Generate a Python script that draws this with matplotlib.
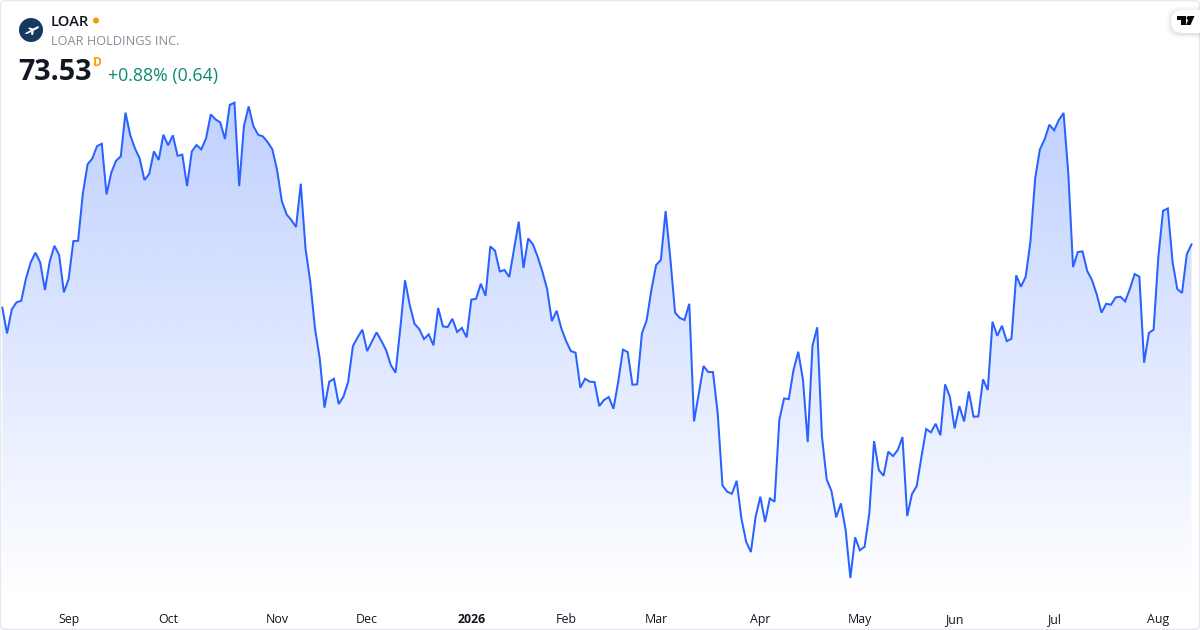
import numpy as np
import matplotlib
matplotlib.use("Agg")
import matplotlib.pyplot as plt
from matplotlib.patches import Circle, FancyBboxPatch, Polygon

plt.rcParams['font.family'] = ['Open Sans', 'DejaVu Sans']

ticker = "LOAR"
company = "LOAR HOLDINGS INC."
last_price = "73.53"
interval = "D"
change = "+0.88% (0.64)"

closes = [
    69.48, 67.83, 69.37, 69.82, 69.92, 71.35, 72.38, 73.00, 72.38, 70.61, 72.42, 73.44,
    72.85, 70.46, 71.31, 73.74, 73.76, 76.79, 78.65, 79.03, 79.82, 79.97, 76.73, 78.12,
    78.88, 79.16, 81.96, 80.53, 79.67, 79.03, 77.65, 78.03, 79.48, 78.93, 80.55, 79.87,
    80.51, 79.20, 79.27, 77.26, 79.48, 79.89, 79.61, 80.31, 81.85, 81.53, 81.34, 80.27,
    82.45, 82.60, 77.26, 81.10, 82.36, 81.10, 80.55, 80.44, 80.08, 79.61, 78.29, 76.30,
    75.45, 75.09, 74.64, 77.41, 73.27, 71.14, 68.15, 66.23, 63.08, 64.74, 64.93, 63.31,
    63.78, 64.74, 67.02, 67.58, 68.07, 66.70, 67.30, 67.90, 67.36, 66.77, 65.81, 65.32,
    68.15, 71.23, 69.65, 68.45, 68.11, 67.47, 67.77, 67.07, 69.46, 68.28, 68.24, 68.77,
    67.92, 68.18, 67.58, 69.99, 70.05, 71.01, 70.24, 73.40, 73.12, 71.80, 71.89, 71.44,
    73.21, 74.98, 72.02, 73.91, 73.53, 72.74, 71.78, 70.65, 68.62, 69.28, 68.15, 67.34,
    66.70, 66.60, 64.36, 64.93, 64.74, 64.72, 63.18, 63.57, 63.76, 63.01, 64.74, 66.79,
    66.64, 64.55, 64.57, 67.83, 68.67, 70.61, 72.21, 72.53, 75.66, 72.63, 69.16, 68.82,
    68.69, 69.73, 62.20, 63.99, 65.74, 65.36, 65.36, 62.71, 58.11, 57.70, 57.57, 58.40,
    55.99, 54.50, 53.84, 56.10, 57.38, 55.76, 57.27, 57.06, 62.29, 63.67, 63.63, 65.49,
    66.66, 64.85, 60.88, 67.04, 68.22, 61.22, 58.49, 57.76, 56.06, 56.95, 55.25, 52.18,
    54.78, 53.95, 54.18, 56.31, 60.94, 59.09, 58.72, 60.26, 59.98, 60.37, 61.20, 56.14,
    57.55, 58.06, 59.94, 61.71, 61.50, 62.05, 61.31, 64.57, 63.78, 61.75, 63.18, 62.20,
    64.12, 62.50, 62.52, 64.89, 64.21, 68.58, 67.68, 68.32, 67.34, 67.49, 71.55, 70.82,
    71.46, 73.70, 77.75, 79.61, 80.25, 81.19, 80.83, 81.49, 81.94, 78.07, 72.08, 73.04,
    73.08, 71.82, 71.25, 70.33, 69.16, 69.73, 69.67, 70.14, 70.18, 69.88, 70.69, 71.63,
    71.46, 65.96, 67.86, 68.07, 72.74, 75.68, 75.83, 72.42, 70.67, 70.42, 72.89, 73.53,
]
tick_pos = [14, 35, 58, 77, 99, 119, 138, 160, 181, 201, 222, 244]
tick_labels = ["Sep", "Oct", "Nov", "Dec", "2026", "Feb", "Mar", "Apr", "May", "Jun", "Jul", "Aug"]

W, H = 1200, 630
fig = plt.figure(figsize=(W / 100, H / 100), dpi=100, facecolor="white")
ax = fig.add_axes([0, 0, 1, 1])

x = np.arange(len(closes))
# full-bleed axes, so the limits put first/last bar at px 2.3 and 1191.5
step = (1191.5 - 2.3) / (len(closes) - 1)
xlim = (-2.3 / step, (W - 2.3) / step)
ylim = (48.85, 89.17)
fill_floor = 50.77

# gradient area, image clipped to the area under the line
poly = ax.fill_between(x, closes, fill_floor, color="none", lw=0)
grad = np.zeros((256, 1, 4))
grad[..., :3] = matplotlib.colors.to_rgb("#2962FF")
grad[..., 3] = np.linspace(0.30, 0.0, 256)[:, None]
im = ax.imshow(grad, aspect="auto", extent=[x[0], x[-1], fill_floor, 83.0],
               origin="upper", zorder=1, interpolation="bilinear")
im.set_clip_path(poly.get_paths()[0], transform=ax.transData)
ax.set_xlim(*xlim)
ax.set_ylim(*ylim)

ax.plot(x, closes, color="#2962FF", lw=1.45, solid_joinstyle="miter", zorder=3)

for s in ax.spines.values():
    s.set_visible(False)
ax.set_yticks([])
ax.set_xticks(tick_pos)
ax.set_xticklabels(tick_labels, fontsize=8.9, color="#131722")
ax.tick_params(axis="x", length=0, pad=-12.2)
ax.get_xticklabels()[4].set_fontweight("bold")

# header and logos in pixel coordinates
ov = fig.add_axes([0, 0, 1, 1], facecolor="none")
ov.set_xlim(0, W)
ov.set_ylim(H, 0)
ov.axis("off")

ov.add_patch(FancyBboxPatch((0.5, 0.5), W - 1, H - 1, boxstyle="round,pad=0,rounding_size=5",
                            fc="none", ec="#e6e8ee", lw=1.0))

ov.add_patch(Circle((31, 30), 12, fc="#163a5f", ec="none"))
ov.add_patch(Polygon([(24.5, 33.5), (37, 26.5), (39.5, 26.5), (38, 28.5), (27, 34)], fc="white", ec="none"))
ov.add_patch(Polygon([(28, 28), (30, 27.5), (34, 29), (31, 30.5)], fc="white", ec="none"))
ov.add_patch(Polygon([(31, 32), (34, 30.5), (33, 35), (31.5, 35)], fc="white", ec="none"))

ov.text(51, 22, ticker, fontsize=10.6, fontweight="semibold", color="#131722", va="center", ha="left")
ov.add_patch(Circle((96, 20.5), 3, fc="#ff9800", ec="none"))
ov.text(51, 41.5, company, fontsize=9.2, color="#8a8e99", va="center", ha="left")
ov.text(18.5, 73, last_price, fontsize=20.6, fontweight="bold", color="#131722", va="center", ha="left")
ov.text(93, 62, interval, fontsize=8.6, fontweight="bold", color="#ff9800", va="center", ha="left")
ov.text(108, 76, change, fontsize=12.8, color="#0f8a72", va="center", ha="left")

# TradingView badge with a soft shadow
for grow, alpha in [(5, 0.012), (3.5, 0.02), (2, 0.03), (1, 0.04)]:
    ov.add_patch(FancyBboxPatch((1171 - grow, 10 - grow + 1), 40 + grow, 23 + grow * 2,
                                boxstyle="round,pad=0,rounding_size=11", fc="black", ec="none", alpha=alpha))
ov.add_patch(FancyBboxPatch((1171, 10), 40, 23, boxstyle="round,pad=0,rounding_size=11", fc="white", ec="none"))
ov.add_patch(Polygon([(1177.3, 16), (1186, 16), (1186, 25), (1181, 25), (1181, 20), (1177.3, 20)], fc="#0a0a0a", ec="none"))
ov.add_patch(Circle((1188.6, 18), 2, fc="#0a0a0a", ec="none"))
ov.add_patch(Polygon([(1189.8, 16), (1194.5, 16), (1190.5, 25), (1186, 25)], fc="#0a0a0a", ec="none"))

fig.savefig("out.png", dpi=100, facecolor="white")
